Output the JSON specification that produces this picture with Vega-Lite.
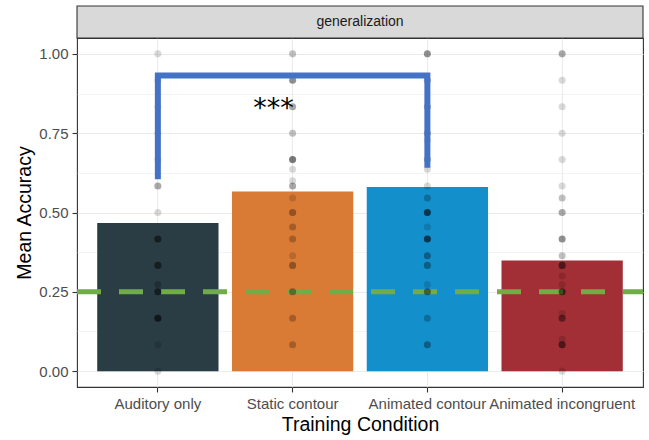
{
  "$schema": "https://vega.github.io/schema/vega-lite/v6.json",
  "width": 566,
  "height": 349,
  "autosize": {"type": "none"},
  "padding": {"left": 77, "top": 38, "right": 6, "bottom": 53},
  "background": "white",
  "config": {
    "font": "Liberation Sans",
    "view": {"stroke": "#333333", "strokeWidth": 1.1},
    "axis": {
      "domain": false,
      "gridColor": "#EBEBEB",
      "gridWidth": 1.1,
      "tickColor": "#333333",
      "tickSize": 5,
      "tickWidth": 1.1,
      "labelColor": "#4D4D4D",
      "labelFont": "Liberation Sans",
      "labelFontSize": 15,
      "labelPadding": 4,
      "titleFont": "Liberation Sans",
      "titleFontSize": 19.5,
      "titleFontWeight": "normal",
      "titleColor": "#000000"
    }
  },
  "datasets": {
    "strip": [{"panel": "generalization"}],
    "bars": [
      {"cond": "Auditory only", "acc": 0.467},
      {"cond": "Static contour", "acc": 0.566},
      {"cond": "Animated contour", "acc": 0.58},
      {"cond": "Animated incongruent", "acc": 0.349}
    ],
    "points": [
      {"cond": "Auditory only", "acc": 1.0, "n": 1},
      {"cond": "Auditory only", "acc": 0.9167, "n": 1},
      {"cond": "Auditory only", "acc": 0.8333, "n": 1},
      {"cond": "Auditory only", "acc": 0.75, "n": 1},
      {"cond": "Auditory only", "acc": 0.6667, "n": 1},
      {"cond": "Auditory only", "acc": 0.5833, "n": 3},
      {"cond": "Auditory only", "acc": 0.5, "n": 1},
      {"cond": "Auditory only", "acc": 0.4167, "n": 5},
      {"cond": "Auditory only", "acc": 0.3333, "n": 5},
      {"cond": "Auditory only", "acc": 0.2727, "n": 2},
      {"cond": "Auditory only", "acc": 0.25, "n": 5},
      {"cond": "Auditory only", "acc": 0.1667, "n": 6},
      {"cond": "Auditory only", "acc": 0.0833, "n": 1},
      {"cond": "Auditory only", "acc": 0.0, "n": 1},
      {"cond": "Static contour", "acc": 1.0, "n": 2},
      {"cond": "Static contour", "acc": 0.9167, "n": 4},
      {"cond": "Static contour", "acc": 0.8333, "n": 3},
      {"cond": "Static contour", "acc": 0.75, "n": 2},
      {"cond": "Static contour", "acc": 0.6667, "n": 5},
      {"cond": "Static contour", "acc": 0.6364, "n": 1},
      {"cond": "Static contour", "acc": 0.6, "n": 1},
      {"cond": "Static contour", "acc": 0.5833, "n": 3},
      {"cond": "Static contour", "acc": 0.5455, "n": 1},
      {"cond": "Static contour", "acc": 0.5, "n": 3},
      {"cond": "Static contour", "acc": 0.4545, "n": 2},
      {"cond": "Static contour", "acc": 0.4167, "n": 2},
      {"cond": "Static contour", "acc": 0.3636, "n": 1},
      {"cond": "Static contour", "acc": 0.3333, "n": 3},
      {"cond": "Static contour", "acc": 0.25, "n": 3},
      {"cond": "Static contour", "acc": 0.1667, "n": 2},
      {"cond": "Static contour", "acc": 0.0833, "n": 2},
      {"cond": "Animated contour", "acc": 1.0, "n": 4},
      {"cond": "Animated contour", "acc": 0.9167, "n": 3},
      {"cond": "Animated contour", "acc": 0.8333, "n": 3},
      {"cond": "Animated contour", "acc": 0.75, "n": 3},
      {"cond": "Animated contour", "acc": 0.7273, "n": 1},
      {"cond": "Animated contour", "acc": 0.6667, "n": 3},
      {"cond": "Animated contour", "acc": 0.6364, "n": 1},
      {"cond": "Animated contour", "acc": 0.5833, "n": 1},
      {"cond": "Animated contour", "acc": 0.5455, "n": 2},
      {"cond": "Animated contour", "acc": 0.5, "n": 6},
      {"cond": "Animated contour", "acc": 0.4545, "n": 1},
      {"cond": "Animated contour", "acc": 0.4167, "n": 6},
      {"cond": "Animated contour", "acc": 0.3636, "n": 3},
      {"cond": "Animated contour", "acc": 0.3333, "n": 3},
      {"cond": "Animated contour", "acc": 0.2727, "n": 1},
      {"cond": "Animated contour", "acc": 0.25, "n": 4},
      {"cond": "Animated contour", "acc": 0.1667, "n": 2},
      {"cond": "Animated contour", "acc": 0.0833, "n": 3},
      {"cond": "Animated incongruent", "acc": 1.0, "n": 3},
      {"cond": "Animated incongruent", "acc": 0.9167, "n": 1},
      {"cond": "Animated incongruent", "acc": 0.8333, "n": 1},
      {"cond": "Animated incongruent", "acc": 0.75, "n": 1},
      {"cond": "Animated incongruent", "acc": 0.6667, "n": 1},
      {"cond": "Animated incongruent", "acc": 0.5833, "n": 1},
      {"cond": "Animated incongruent", "acc": 0.5455, "n": 2},
      {"cond": "Animated incongruent", "acc": 0.5, "n": 3},
      {"cond": "Animated incongruent", "acc": 0.4167, "n": 4},
      {"cond": "Animated incongruent", "acc": 0.3636, "n": 2},
      {"cond": "Animated incongruent", "acc": 0.3333, "n": 5},
      {"cond": "Animated incongruent", "acc": 0.3, "n": 1},
      {"cond": "Animated incongruent", "acc": 0.2727, "n": 1},
      {"cond": "Animated incongruent", "acc": 0.25, "n": 5},
      {"cond": "Animated incongruent", "acc": 0.1818, "n": 1},
      {"cond": "Animated incongruent", "acc": 0.1667, "n": 4},
      {"cond": "Animated incongruent", "acc": 0.1, "n": 1},
      {"cond": "Animated incongruent", "acc": 0.0833, "n": 5},
      {"cond": "Animated incongruent", "acc": 0.0, "n": 1}
    ],
    "chance": [{"level": 0.25}],
    "bracket": [
      {"cond": "Auditory only", "acc": 0.605, "step": 1},
      {"cond": "Auditory only", "acc": 0.932, "step": 2},
      {"cond": "Animated contour", "acc": 0.932, "step": 3},
      {"cond": "Animated contour", "acc": 0.641, "step": 4}
    ],
    "signif": [{"cond": "Static contour", "acc": 0.8, "label": "***"}]
  },
  "layer": [
    {
      "data": {"name": "bars"},
      "mark": {"type": "bar"},
      "encoding": {
        "x": {
          "field": "cond",
          "type": "nominal",
          "sort": ["Auditory only", "Static contour", "Animated contour", "Animated incongruent"],
          "scale": {"paddingInner": 0.1, "paddingOuter": 0.15},
          "axis": {
            "title": "Training Condition",
            "labelAngle": 0,
            "grid": true,
            "bandPosition": 0.5,
            "labelOverlap": false,
            "titlePadding": 4
          }
        },
        "y": {
          "field": "acc",
          "type": "quantitative",
          "scale": {"domain": [-0.05, 1.05], "nice": false, "zero": false},
          "axis": {
            "title": "Mean Accuracy",
            "values": [0, 0.125, 0.25, 0.375, 0.5, 0.625, 0.75, 0.875, 1],
            "labelExpr": "datum.value % 0.25 === 0 ? format(datum.value, '.2f') : ''",
            "tickOpacity": {"condition": {"test": "datum.value % 0.25 !== 0", "value": 0}, "value": 1},
            "gridWidth": {"condition": {"test": "datum.value % 0.25 !== 0", "value": 0.55}, "value": 1.1},
            "titlePadding": 4
          }
        },
        "color": {
          "field": "cond",
          "type": "nominal",
          "scale": {
            "domain": ["Auditory only", "Static contour", "Animated contour", "Animated incongruent"],
            "range": ["#2B3D44", "#D97B35", "#138FCC", "#A22F36"]
          },
          "legend": null
        }
      }
    },
    {
      "data": {"name": "chance"},
      "mark": {"type": "rule", "color": "#70AD47", "strokeWidth": 5, "strokeDash": [24, 18], "strokeDashOffset": 4},
      "encoding": {
        "y": {"field": "level", "type": "quantitative"}
      }
    },
    {
      "data": {"name": "points"},
      "mark": {"type": "circle", "size": 50, "color": "#000000"},
      "encoding": {
        "x": {"field": "cond", "type": "nominal", "sort": ["Auditory only", "Static contour", "Animated contour", "Animated incongruent"]},
        "y": {"field": "acc", "type": "quantitative"},
        "opacity": {
          "field": "n",
          "type": "quantitative",
          "scale": {"domain": [1, 6], "range": [0.15, 0.62], "clamp": true},
          "legend": null
        }
      }
    },
    {
      "data": {"name": "bracket"},
      "mark": {"type": "line", "color": "#4472C4", "strokeWidth": 6, "strokeCap": "butt", "strokeJoin": "miter"},
      "encoding": {
        "x": {"field": "cond", "type": "nominal", "sort": ["Auditory only", "Static contour", "Animated contour", "Animated incongruent"]},
        "y": {"field": "acc", "type": "quantitative"},
        "order": {"field": "step", "type": "quantitative"}
      }
    },
    {
      "data": {"name": "signif"},
      "mark": {"type": "text", "font": "DejaVu Sans", "fontSize": 27, "align": "center", "baseline": "alphabetic", "dx": -19, "color": "#000000"},
      "encoding": {
        "x": {"field": "cond", "type": "nominal", "sort": ["Auditory only", "Static contour", "Animated contour", "Animated incongruent"]},
        "y": {"field": "acc", "type": "quantitative"},
        "text": {"field": "label"}
      }
    },
    {
      "data": {"name": "strip"},
      "mark": {"type": "rect", "fill": "#D9D9D9", "stroke": "#333333", "strokeWidth": 1.1},
      "encoding": {
        "x": {"value": 0},
        "x2": {"value": "width"},
        "y": {"datum": 1.05},
        "y2": {"datum": 1.151}
      }
    },
    {
      "data": {"name": "strip"},
      "mark": {"type": "text", "x": {"expr": "width / 2"}, "align": "center", "baseline": "middle", "font": "Liberation Sans", "fontSize": 14, "color": "#1A1A1A"},
      "encoding": {
        "y": {"datum": 1.1},
        "text": {"field": "panel"}
      }
    }
  ]
}
